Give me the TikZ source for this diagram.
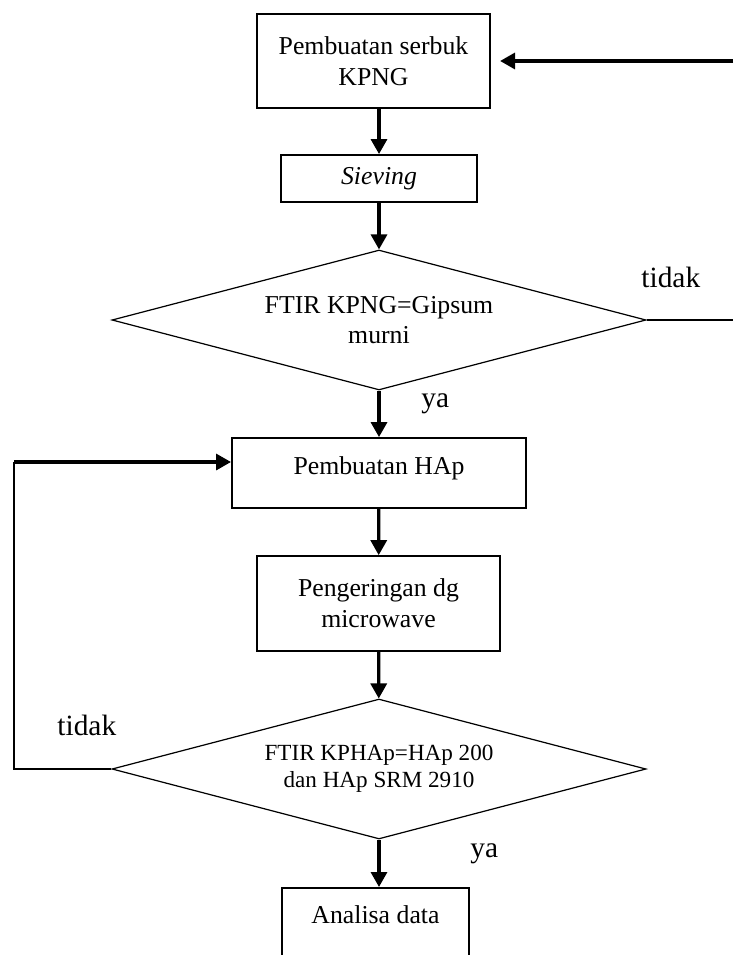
\documentclass[tikz,border=0pt]{standalone}
\usepackage{fontspec}
\setmainfont{Liberation Serif}
\usetikzlibrary{shapes.geometric,arrows.meta}
\begin{document}
\begin{tikzpicture}[x=0.493pt, y=-0.493pt, >={Triangle[length=7.4pt,width=7.9pt]},
  kotak/.style={draw, line width=0.9pt, align=center, inner sep=2pt, font=\fontsize{12.7}{15.3}\selectfont},
  keputusan/.style={draw, diamond, aspect=3.8, line width=0.6pt, align=center, inner sep=1pt, minimum width=263.3pt, minimum height=69pt},
  panah/.style={->, line width=1.6pt},
  garis/.style={line width=0.6pt},
  ket/.style={anchor=base west, inner sep=0pt, font=\fontsize{14.5}{17}\selectfont}]
\useasboundingbox (0,0) rectangle (733,955);
\clip (0,0) rectangle (733,955);

\node[kotak, minimum width=114.9pt, minimum height=46.3pt] (serbuk) at (373.5,61) {Pembuatan serbuk\\KPNG};
\node[kotak, minimum width=96.6pt, minimum height=23.2pt] (sieving) at (379,178.5) {\itshape Sieving};
\node[keputusan, font=\fontsize{12.7}{14.8}\selectfont] (cek1) at (379,320) {FTIR KPNG=Gipsum\\murni};
\node[kotak, minimum width=145pt, minimum height=34.5pt, text height=8pt, text depth=7pt] (hap) at (379,473) {Pembuatan HAp};
\node[kotak, minimum width=119.8pt, minimum height=46.8pt] (kering) at (378.5,603.5) {Pengeringan dg\\microwave};
\node[keputusan, font=\fontsize{11.4}{13.3}\selectfont] (cek2) at (379,769) {FTIR KPHAp=HAp 200\\dan HAp SRM 2910};
\node[kotak, anchor=north, minimum width=92.2pt, minimum height=43.4pt, text height=8pt, text depth=16.8pt] (analisa) at (375.5,887) {Analisa data};

\node[ket] (tidak1) at (641,287) {tidak};
\node[ket] (ya1) at (421,407) {ya};
\node[ket] (tidak2) at (57,735) {tidak};
\node[ket] (ya2) at (470,857) {ya};

\coordinate (masuk) at (733,61);
\coordinate (keluar) at (733,320);
\coordinate (balik) at (14,462);

\draw[panah, shorten >=4.5pt] (masuk) -- (serbuk);
\draw[panah] (sieving.north |- serbuk.south) -- (sieving);
\draw[panah] (sieving) -- (cek1);
\draw[panah] (cek1) -- (hap);
\draw[panah] (hap) -- (kering);
\draw[panah] (kering) -- (cek2);
\draw[panah] (cek2.south) -- (cek2.south |- analisa.north);
\draw[garis] (cek1) -- (keluar);
\draw[garis] (cek2) -| (balik);
\draw[panah] (balik) -- (balik -| hap.west);
\end{tikzpicture}
\end{document}
